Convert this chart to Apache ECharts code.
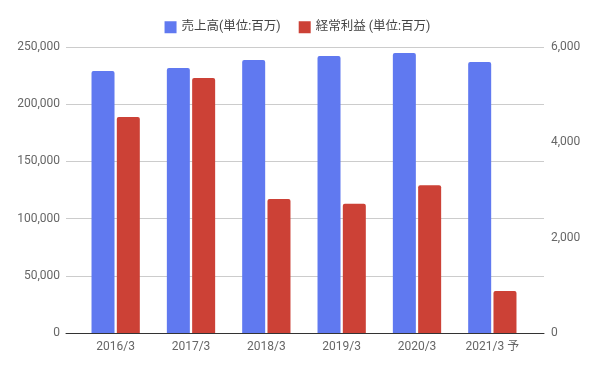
<!DOCTYPE html>
<html><head><meta charset="utf-8">
<script src="https://cdn.jsdelivr.net/npm/echarts@6/dist/echarts.min.js"></script>
<style>html,body{margin:0;padding:0;background:#fff}#c{width:595px;height:367px}</style>
</head><body><div id="c"></div>
<script>
const categories = ['2016/3','2017/3','2018/3','2019/3','2020/3','2021/3 予'];
const salesName = '売上高(単位:百万)';
const profitName = '経常利益 (単位:百万)';
const sales = [229000, 231600, 238600, 242100, 244800, 236900];
const profit = [4530, 5350, 2810, 2710, 3100, 880];
const leftTicks = [0, 50000, 100000, 150000, 200000, 250000];
const rightTicks = [0, 2000, 4000, 6000];

const font = "Roboto, 'Noto Sans CJK JP', sans-serif";
const chart = echarts.init(document.getElementById('c'), null, {renderer:'canvas'});
const fmt = v => v.toLocaleString('en-US');
chart.setOption({
  animation: false,
  textStyle: {fontFamily: font},
  legend: {
    top: 16, left: 'center', itemWidth: 12, itemHeight: 12, itemGap: 18,
    icon: 'rect',
    textStyle: {fontSize: 12.5, color: '#444', fontFamily: font},
    data: [salesName, profitName]
  },
  grid: [
    {left: 66, right: 51, top: 47, bottom: 34},
    {left: 78, right: 65, top: 47, bottom: 34}
  ],
  xAxis: [
    {gridIndex: 0, type: 'category', data: categories, axisLabel: {show: false}, axisTick: {show: false},
     axisLine: {lineStyle: {color: '#333', width: 1}}},
    {gridIndex: 1, type: 'category', data: categories, axisTick: {show: false}, axisLine: {show: false},
     axisLabel: {color: '#666', fontSize: 12, margin: 8, fontFamily: font}}
  ],
  yAxis: [
    {gridIndex: 0, type: 'value', min: leftTicks[0], max: leftTicks[leftTicks.length-1], interval: 50000,
     axisLine: {show: false}, axisTick: {show: false},
     axisLabel: {color: '#666', fontSize: 12, margin: 6, formatter: fmt, fontFamily: font},
     splitLine: {lineStyle: {color: '#ccc'}}},
    {gridIndex: 0, type: 'value', position: 'right', min: rightTicks[0], max: rightTicks[rightTicks.length-1], interval: 2000,
     axisLine: {show: false}, axisTick: {show: false},
     axisLabel: {color: '#666', fontSize: 12, margin: 7, formatter: fmt, fontFamily: font},
     splitLine: {show: false}},
    {gridIndex: 1, type: 'value', min: 0, max: 250000, show: false, splitLine: {show: false}},
    {gridIndex: 1, type: 'value', min: 0, max: 6000, show: false, splitLine: {show: false}}
  ],
  series: [
    {name: salesName, type: 'bar', xAxisIndex: 1, yAxisIndex: 2, data: sales,
     barWidth: 23, barGap: '10%', itemStyle: {color: '#6079f0', borderRadius: [2,2,0,0]}},
    {name: profitName, type: 'bar', xAxisIndex: 1, yAxisIndex: 3, data: profit,
     barWidth: 23, barGap: '10%', itemStyle: {color: '#cc4136', borderRadius: [2,2,0,0]}}
  ]
});
</script></body></html>
